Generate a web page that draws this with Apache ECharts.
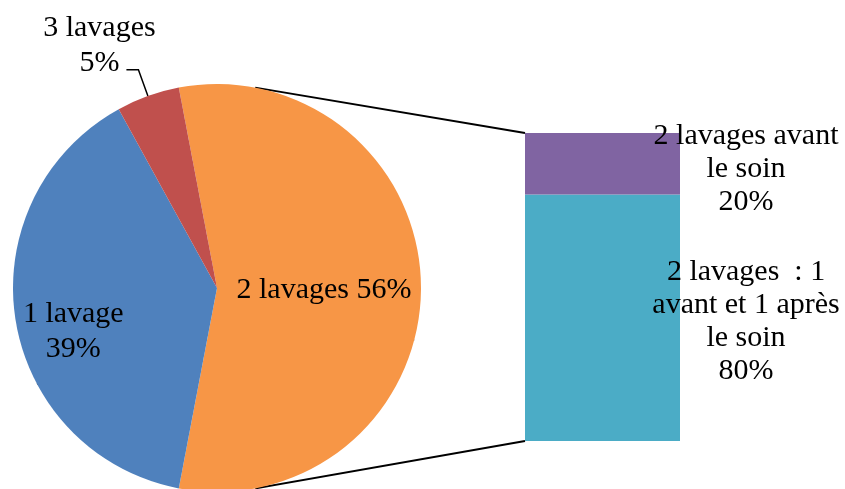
<!DOCTYPE html>
<html><head><meta charset="utf-8">
<script src="https://cdn.jsdelivr.net/npm/echarts@6/dist/echarts.min.js"></script>
<style>html,body{margin:0;padding:0;background:#fff}#c{width:845px;height:489px}</style>
</head><body><div id="c"></div>
<script>
// ---- data ----
const pieNames = ['2 lavages', '1 lavage', '3 lavages'];
const pieValues = [56, 39, 5];
const pieLabels = ['2 lavages 56%', '1 lavage\n39%', '3 lavages\n5%'];
const pieColors = ['#F79646', '#4F81BD', '#C0504D'];

const barCategories = ['2 lavages'];
const barNames = ['2 lavages : 1 avant et 1 après le soin', '2 lavages avant le soin'];
const barValues = [80, 20];
const barLabels = ['2 lavages  : 1\navant et 1 après\nle soin\n80%', '2 lavages avant\nle soin\n20%'];
const barColors = ['#4BACC6', '#8064A2'];

// ---- layout ----
const PIE_CX = 217, PIE_CY = 288, PIE_R = 204;
const START = 100.8;
const GRID = {left: 525, top: 133, width: 155, height: 308};
const FONT = '"Liberation Serif", "Times New Roman", serif';

const chart = echarts.init(document.getElementById('c'), null, {renderer: 'canvas'});

const pieData = pieNames.map((n, i) => {
  const d = {name: n, value: pieValues[i], itemStyle: {color: pieColors[i]}};
  if (i < 2) d.label = {position: 'inside'};
  return d;
});

const barSeries = barNames.map((n, i) => ({
  type: 'bar', name: n, stack: 'total', barWidth: '100%',
  xAxisIndex: 0, yAxisIndex: 0,
  data: [{value: barValues[i], itemStyle: {color: barColors[i]}}],
  label: {
    show: true,
    formatter: barLabels[i],
    position: i === 0 ? ['142.6%', '51.6%'] : ['142.6%', '58%'],
    align: 'center', verticalAlign: 'middle',
    color: '#000', fontFamily: FONT, fontSize: 30, lineHeight: 33
  },
  emphasis: {disabled: true},
  silent: true
}));

chart.setOption({
  animation: false,
  backgroundColor: '#fff',
  grid: [{left: GRID.left, top: GRID.top, width: GRID.width, height: GRID.height, containLabel: false}],
  xAxis: [{type: 'category', gridIndex: 0, data: barCategories, show: false, boundaryGap: true}],
  yAxis: [{type: 'value', gridIndex: 0, min: 0, max: 100, show: false}],
  series: [{
    type: 'pie',
    center: [PIE_CX, PIE_CY],
    radius: PIE_R,
    startAngle: START,
    clockwise: true,
    avoidLabelOverlap: false,
    silent: true,
    emphasis: {disabled: true},
    data: pieData,
    label: {
      show: true,
      position: 'outside',
      formatter: p => pieLabels[p.dataIndex],
      color: '#000', fontFamily: FONT, fontSize: 30, lineHeight: 35,
      align: 'center'
    },
    labelLine: {show: true, length: 28, length2: 12, lineStyle: {color: '#000', width: 1.5}},
    labelLayout: function (p) {
      const r = p.labelRect;
      if (p.dataIndex === 0) {
        return {x: r.x + r.width / 2 + 2, y: r.y + r.height / 2 + 2, align: 'center', verticalAlign: 'middle'};
      }
      if (p.dataIndex === 1) {
        return {x: r.x + r.width / 2 - 40, y: r.y + r.height / 2 + 27, align: 'center', verticalAlign: 'middle'};
      }
      if (p.dataIndex === 2 && p.labelLinePoints) {
        const pts = p.labelLinePoints;
        const end = pts[pts.length - 1];
        return {x: end[0] - 27, y: end[1] + 11, align: 'center', verticalAlign: 'bottom', labelLinePoints: pts};
      }
    }
  }].concat(barSeries)
});

// connector lines from the pie to the bar
let rect = GRID;
try {
  const gr = chart.getModel().getComponent('grid', 0).coordinateSystem.getRect();
  rect = {left: gr.x, top: gr.y, width: gr.width, height: gr.height};
} catch (e) {}
const total = pieValues.reduce((a, b) => a + b, 0);
const aStart = 90 - START;                      // clockwise from top
const aEnd = aStart + 360 * pieValues[0] / total;
const topA = -aStart, botA = 360 - aEnd;
function onCircle(a) {
  const rad = a * Math.PI / 180;
  return [PIE_CX + PIE_R * Math.sin(rad), PIE_CY - PIE_R * Math.cos(rad)];
}
const p1 = onCircle(topA), p2 = onCircle(botA);
chart.setOption({
  graphic: [
    {type: 'line', silent: true, shape: {x1: p1[0], y1: p1[1], x2: rect.left, y2: rect.top}, style: {stroke: '#000', lineWidth: 2}},
    {type: 'line', silent: true, shape: {x1: p2[0], y1: p2[1], x2: rect.left, y2: rect.top + rect.height}, style: {stroke: '#000', lineWidth: 2}}
  ]
});
</script>
</body></html>
